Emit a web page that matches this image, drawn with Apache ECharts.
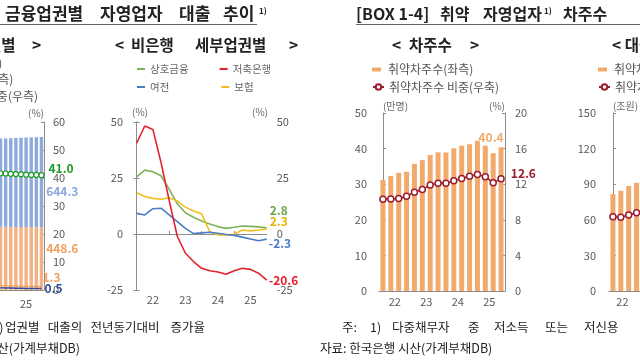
<!DOCTYPE html>
<html><head><meta charset="utf-8">
<script src="https://cdn.jsdelivr.net/npm/echarts@6/dist/echarts.min.js"></script>
<style>html,body{margin:0;padding:0;background:#fff}#c{width:640px;height:360px}</style>
</head><body><div id="c"></div>
<script>
// ---------------- DATA ----------------
// 좌측(업권별, 잘린 부분)
const leftPeriods = ['23.3Q','23.4Q','24.1Q','24.2Q','24.3Q','24.4Q','25.1Q','25.2Q','25.3Q'];
const leftBank    = [630.5, 632.0, 634.1, 636.2, 638.0, 640.1, 641.5, 643.0, 644.3];
const leftNonbank = [451.8, 451.0, 450.5, 450.0, 449.6, 449.2, 448.9, 448.7, 448.6];
const leftShare   = [41.7, 41.6, 41.5, 41.4, 41.3, 41.2, 41.1, 41.1, 41.0];
const leftNonbankGrowth = [1.6, 1.5, 1.5, 1.4, 1.4, 1.3, 1.3, 1.3, 1.3];
const leftBankGrowth    = [0.8, 0.7, 0.7, 0.6, 0.6, 0.5, 0.5, 0.5, 0.5];
const leftYearLabels = ['25'];

// 비은행 세부업권별 (전년동기대비 증가율, %)
const midPeriods = ['21.3Q','21.4Q','22.1Q','22.2Q','22.3Q','22.4Q','23.1Q','23.2Q','23.3Q','23.4Q','24.1Q','24.2Q','24.3Q','24.4Q','25.1Q','25.2Q','25.3Q'];
const midMutual  = [25.5, 28.5, 27.8, 26.0, 20.0, 13.5, 9.5, 7.5, 5.8, 4.5, 3.3, 2.5, 3.0, 3.6, 3.4, 3.2, 2.8];
const midSavings = [40.5, 48.2, 46.7, 32.0, 15.0, -1.0, -8.6, -12.3, -15.3, -16.4, -17.0, -18.0, -16.4, -15.3, -15.8, -17.5, -20.6];
const midCard    = [9.2, 8.5, 11.3, 11.5, 8.5, 5.5, 2.5, 0.2, 0.5, 0.8, 0.3, -0.2, -0.6, -1.4, -2.2, -3.0, -2.3];
const midInsur   = [18.4, 16.7, 15.9, 15.5, 16.2, 14.7, 12.0, 10.3, 9.0, 1.0, -0.4, -0.4, -0.1, 1.8, 1.4, 1.8, 2.3];
const midYearLabels = ['22','23','24','25'];

// 차주수
const rightPeriods = ['21.4Q','22.1Q','22.2Q','22.3Q','22.4Q','23.1Q','23.2Q','23.3Q','23.4Q','24.1Q','24.2Q','24.3Q','24.4Q','25.1Q','25.2Q','25.3Q'];
const rightBorrowers = [31.2, 32.3, 33.2, 33.5, 35.7, 36.8, 38.2, 39.0, 38.9, 40.1, 40.8, 41.2, 42.2, 40.8, 38.7, 40.4];
const rightShare     = [10.3, 10.35, 10.4, 10.65, 11.1, 11.4, 11.9, 12.1, 12.1, 12.4, 12.65, 12.9, 13.1, 12.85, 12.15, 12.6];
const rightYearLabels = ['22','23','24','25'];

// 대출 (잘린 부분, 앞 4개 분기만 보임)
const farLoans = [81.7, 84.5, 88.5, 91.2];
const farShare = [16.7, 16.6, 17.1, 17.6];
const farYearLabels = ['22'];

// ---------------- STYLE ----------------
const FONT = '"Noto Sans CJK KR","Noto Sans",sans-serif';
const AX = '#8c8c8c', LB = '#595959';
const C = {
  bankBlue:'#8eaadc', nonOrange:'#f4b183', share:'#1e9a2a', dark:'#2f4c9c',
  mutual:'#7cb35a', savings:'#e3222b', card:'#4a7cc8', insur:'#efbf1f',
  bar:'#f2aa6c', line:'#9b1c2c'
};
const LBL = {fontFamily:FONT, fontSize:12, fontWeight:'bold'};

const pairs = a => a.map((v,i)=>[i,v]);
function withLast(a, lab){   // [index,value] pairs, label on the last point
  return a.map((v,i)=> i===a.length-1
    ? {value:[i,v], label:Object.assign({show:true, formatter:()=>v.toFixed(1)}, LBL, lab)}
    : [i,v]);
}
function withLastPlain(a, lab){
  return a.map((v,i)=> i===a.length-1
    ? {value:v, label:Object.assign({show:true, formatter:()=>v.toFixed(1)}, LBL, lab)}
    : v);
}
function endLab(a, o){
  return Object.assign({show:true, formatter:()=>a[a.length-1].toFixed(1)}, LBL, o);
}
function yAx(o){
  return Object.assign({type:'value', splitLine:{show:false},
    axisLine:{show:true, lineStyle:{color:AX, width:1}},
    axisTick:{show:true, inside:true, length:3, lineStyle:{color:AX}},
    axisLabel:{color:LB, fontSize:11, fontFamily:FONT}}, o);
}
function xAx(o){
  return Object.assign({type:'value', splitLine:{show:false},
    axisLine:{show:true, onZero:false, lineStyle:{color:AX}},
    axisTick:{show:false}}, o);
}
function nm(align){ return {color:'#666', fontSize:10, fontFamily:FONT, align:align, verticalAlign:'bottom'}; }
function T(text, x, y, size, o){
  o = o || {};
  return {type:'text', x:x, y:y, silent:true, z:10,
    style:{text:text, font:(o.bold?'bold ':'')+size+'px '+FONT, fill:o.color||'#222',
      align:o.align||'left', verticalAlign:'middle'}};
}
const legText = (fs, lh, extra) => Object.assign({fontSize:fs, color:'#555', lineHeight:lh, fontFamily:FONT}, extra||{});

const chart = echarts.init(document.getElementById('c'));
const option = {
  animation:false,
  textStyle:{fontFamily:FONT},
  grid:[
    {left:-2, top:122, width:46, height:168, outerBoundsMode:'none', containLabel:false},
    {left:135, top:122, width:131.7, height:168, outerBoundsMode:'none', containLabel:false},
    {left:379, top:113, width:126, height:178, outerBoundsMode:'none', containLabel:false},
    {left:609, top:113, width:126, height:178, outerBoundsMode:'none', containLabel:false}
  ],
  xAxis:[
    {gridIndex:0, type:'category', data:leftPeriods, boundaryGap:true,
      axisLine:{show:true, lineStyle:{color:AX}}, axisTick:{show:false},
      axisLabel:{interval:0, formatter:(v,i)=> i===5 ? leftYearLabels[0] : '', color:LB, fontSize:11, margin:8}},
    xAx({gridIndex:1, min:-0.2, max:16, position:'bottom', axisLine:{show:false},
      axisLabel:{customValues:[2,6,10,14], formatter:v=>midYearLabels[Math.round((v-2)/4)], color:LB, fontSize:11, margin:4}}),
    xAx({gridIndex:1, min:-0.2, max:16, position:'top',
      axisLine:{show:true, onZero:true, lineStyle:{color:AX}},
      axisTick:{show:true, customValues:[4,8,12], length:3, inside:false, lineStyle:{color:AX}},
      axisLabel:{show:false}}),
    xAx({gridIndex:2, min:-0.5, max:15.5,
      axisLabel:{customValues:[1.5,5.5,9.5,13.5], formatter:v=>rightYearLabels[Math.round((v-1.5)/4)], color:LB, fontSize:11, margin:5}}),
    xAx({gridIndex:3, min:-0.5, max:15.5,
      axisLabel:{customValues:[1.2], formatter:()=>farYearLabels[0], color:LB, fontSize:11, margin:5}})
  ],
  yAxis:[
    {gridIndex:0, type:'value', min:0, max:1200, show:false},
    yAx({gridIndex:0, position:'right', min:0, max:60, interval:10, axisLabel:{color:LB, fontSize:11, margin:9},
      name:'(%)', nameLocation:'end', nameGap:4, nameTextStyle:nm('right')}),
    yAx({gridIndex:1, position:'left', min:-25, max:50, interval:25, axisLabel:{color:LB, fontSize:11, margin:12}}),
    yAx({gridIndex:1, position:'right', min:-25, max:50, interval:25, axisLabel:{color:LB, fontSize:11, margin:10}}),
    yAx({gridIndex:2, position:'left', min:0, max:50, interval:10, axisLabel:{color:LB, fontSize:11, margin:12},
      name:'(만명)', nameLocation:'end', nameGap:2, nameTextStyle:nm('left')}),
    yAx({gridIndex:2, position:'right', min:0, max:20, interval:4, axisLabel:{color:LB, fontSize:11, margin:10},
      name:'(%)', nameLocation:'end', nameGap:2, nameTextStyle:nm('right')}),
    yAx({gridIndex:3, position:'left', min:0, max:150, interval:30, axisLabel:{color:LB, fontSize:11, margin:13},
      name:'(조원)', nameLocation:'end', nameGap:2, nameTextStyle:nm('left')}),
    yAx({gridIndex:3, position:'right', min:0, max:40, interval:8})
  ],
  legend:[
    {data:['은행(좌측)','비은행(좌측)','비은행 비중(우측)'], orient:'vertical', left:-66, top:57, padding:0, itemGap:4.5,
      itemWidth:10, itemHeight:7, textStyle:legText(12,12)},
    {data:['상호금융','저축은행'], left:137, top:63, padding:0, itemGap:31, icon:'rect', itemWidth:8, itemHeight:2,
      textStyle:legText(10.5,12,{color:'#666'})},
    {data:['여전','보험'], left:137, top:81, padding:0, itemGap:52, icon:'rect', itemWidth:8, itemHeight:2,
      textStyle:legText(10.5,12,{color:'#666'})},
    {data:['취약차주수(좌측)'], left:372, top:62.5, padding:0, icon:'rect', itemWidth:9, itemHeight:4,
      textStyle:legText(12,14,{padding:[0,0,0,2]})},
    {data:['취약차주수 비중(우축)'], left:372, top:80, padding:0, itemWidth:11, itemHeight:7,
      textStyle:legText(12,14)},
    {data:['취약차주 대출(좌측)'], left:598, top:62.5, padding:0, icon:'rect', itemWidth:9, itemHeight:4,
      textStyle:legText(12,14,{padding:[0,0,0,2]})},
    {data:['취약차주 대출 비중(우축)'], left:598, top:80, padding:0, itemWidth:11, itemHeight:7,
      textStyle:legText(12,14)}
  ],
  series:[
    // ---- left chart ----
    {name:'비은행(좌측)', type:'bar', xAxisIndex:0, yAxisIndex:0, stack:'L', barWidth:3.4,
      itemStyle:{color:C.nonOrange},
      data:withLastPlain(leftNonbank, {position:'right', distance:3, offset:[0,-10], color:'#f0a060'})},
    {name:'은행(좌측)', type:'bar', xAxisIndex:0, yAxisIndex:0, stack:'L', barWidth:3.4,
      itemStyle:{color:C.bankBlue},
      data:withLastPlain(leftBank, {position:'right', distance:3, offset:[0,9], color:'#8aa6dc'})},
    {name:'비은행 증가율', type:'line', xAxisIndex:0, yAxisIndex:1, symbol:'none',
      lineStyle:{color:'#f0a060', width:1.2}, itemStyle:{color:'#f0a060'},
      endLabel:endLab(leftNonbankGrowth, {distance:1, offset:[0,-9], color:'#f0a060'}),
      data:leftNonbankGrowth},
    {name:'은행 증가율', type:'line', xAxisIndex:0, yAxisIndex:1, symbol:'none',
      lineStyle:{color:C.dark, width:1.5}, itemStyle:{color:C.dark},
      endLabel:endLab(leftBankGrowth, {distance:3, offset:[0,0], color:C.dark}),
      data:leftBankGrowth},
    {name:'비은행 비중(우측)', type:'line', xAxisIndex:0, yAxisIndex:1, symbol:'circle', symbolSize:5,
      lineStyle:{color:C.share, width:1.5}, itemStyle:{color:'#fff', borderColor:C.share, borderWidth:1.2},
      data:withLastPlain(leftShare, {position:'right', distance:4, offset:[0,-7], color:C.share})},
    // ---- middle chart ----
    {name:'상호금융', type:'line', xAxisIndex:1, yAxisIndex:2, symbol:'none', lineStyle:{color:C.mutual, width:1.6}, itemStyle:{color:C.mutual},
      endLabel:endLab(midMutual, {distance:3, offset:[0,-17], color:'#6aa84a'}), data:pairs(midMutual)},
    {name:'보험', type:'line', xAxisIndex:1, yAxisIndex:2, symbol:'none', lineStyle:{color:C.insur, width:1.6}, itemStyle:{color:C.insur},
      endLabel:endLab(midInsur, {distance:3, offset:[0,-7], color:'#e6b400'}), data:pairs(midInsur)},
    {name:'여전', type:'line', xAxisIndex:1, yAxisIndex:2, symbol:'none', lineStyle:{color:C.card, width:1.6}, itemStyle:{color:C.card},
      endLabel:endLab(midCard, {distance:2, offset:[0,4], color:C.card}), data:pairs(midCard)},
    {name:'저축은행', type:'line', xAxisIndex:1, yAxisIndex:2, symbol:'none', lineStyle:{color:C.savings, width:1.6}, itemStyle:{color:C.savings},
      endLabel:endLab(midSavings, {distance:2, offset:[0,0], color:C.savings}), data:pairs(midSavings)},
    // ---- right chart ----
    {name:'취약차주수(좌측)', type:'bar', xAxisIndex:3, yAxisIndex:4, barWidth:5, itemStyle:{color:C.bar},
      data:withLast(rightBorrowers, {position:'top', distance:4, offset:[-10,0], color:C.bar})},
    {name:'취약차주수 비중(우축)', type:'line', xAxisIndex:3, yAxisIndex:5, symbol:'circle', symbolSize:6,
      lineStyle:{color:C.line, width:1.5}, itemStyle:{color:'#fff', borderColor:C.line, borderWidth:1.5},
      data:withLast(rightShare, {position:'right', distance:6, offset:[0,-5], color:C.line})},
    // ---- far right chart ----
    {name:'취약차주 대출(좌측)', type:'bar', xAxisIndex:4, yAxisIndex:6, barWidth:5, itemStyle:{color:C.bar},
      data:pairs(farLoans)},
    {name:'취약차주 대출 비중(우축)', type:'line', xAxisIndex:4, yAxisIndex:7, symbol:'circle', symbolSize:6,
      lineStyle:{color:C.line, width:1.5}, itemStyle:{color:'#fff', borderColor:C.line, borderWidth:1.5},
      data:pairs(farShare)}
  ],
  graphic:[
    // titles
    T('금융업권별', 5, 14, 17, {bold:true}),
    T('자영업자', 100, 14, 17, {bold:true}),
    T('대출', 179, 14, 17, {bold:true}),
    T('추이', 223, 14, 17, {bold:true}),
    T('1)', 259, 11, 8, {bold:true}),
    {type:'line', shape:{x1:0, y1:24.5, x2:257, y2:24.5}, style:{stroke:'#666', lineWidth:1.2}},
    T('[BOX 1-4]', 356, 14, 16, {bold:true}),
    T('취약', 440, 14, 16, {bold:true}),
    T('자영업자', 542, 14, 16, {bold:true, align:'right'}),
    T('1)', 544, 11, 8, {bold:true}),
    T('차주수', 563, 14, 16, {bold:true}),
    {type:'line', shape:{x1:356, y1:24.5, x2:640, y2:24.5}, style:{stroke:'#666', lineWidth:1.2}},
    // subtitles
    T('< 금융업권별', 15.5, 45, 15.5, {bold:true, align:'right'}),
    T('>', 32, 45, 15.5, {bold:true}),
    T('<', 115, 45, 15.5, {bold:true}),
    T('비은행', 131, 45, 15.5, {bold:true}),
    T('세부업권별', 195, 45, 15.5, {bold:true}),
    T('>', 289, 45, 15.5, {bold:true}),
    T('<', 392, 45, 15.5, {bold:true}),
    T('차주수', 409, 45, 15.5, {bold:true}),
    T('>', 470, 45, 15.5, {bold:true}),
    T('< 대출 >', 612, 45, 15.5, {bold:true}),
    // middle chart axis units
    T('(%)', 132, 112, 10, {color:'#666'}),
    T('(%)', 268, 112, 10, {color:'#666', align:'right'}),
    // footnotes (justified first lines)
    T('주: 2)', 3.5, 327, 12.5, {align:'right'}),
    T('업권별', 5, 327, 12.5),
    T('대출의', 47.7, 327, 12.5),
    T('전년동기대비', 90.4, 327, 12.5),
    T('증가율', 170.6, 327, 12.5),
    T('자료: 한국은행 시산(가계부채DB)', 80, 348, 12.5, {align:'right'}),
    T('주:', 342, 327, 12.5),
    T('1)', 370, 327, 12.5),
    T('다중채무자', 392, 327, 12.5),
    T('중', 468, 327, 12.5),
    T('저소득', 494, 327, 12.5),
    T('또는', 545, 327, 12.5),
    T('저신용', 584, 327, 12.5),
    T('자료: 한국은행 시산(가계부채DB)', 320, 348, 12.5)
  ]
};
chart.setOption(option);
</script></body></html>
